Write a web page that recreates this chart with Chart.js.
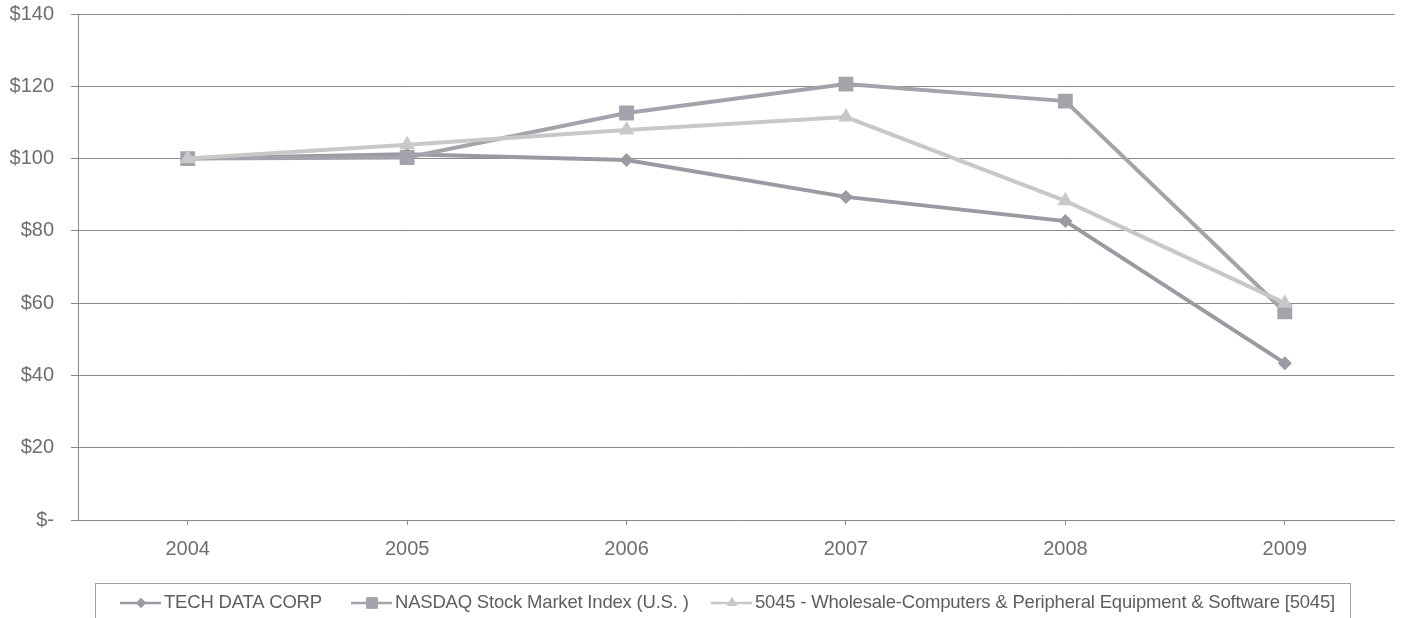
<!DOCTYPE html>
<html>
<head>
<meta charset="utf-8">
<script src="https://cdn.jsdelivr.net/npm/chart.js@4/dist/chart.umd.min.js"></script>
<style>
  html, body { margin: 0; padding: 0; background: #ffffff; }
  #wrap { width: 1405px; height: 618px; position: relative; }
</style>
</head>
<body>
<div id="wrap"><canvas id="c" width="1405" height="618"></canvas></div>
<script>
// Cumulative total return of $100 invested, year-end values
const years = ['2004', '2005', '2006', '2007', '2008', '2009'];
const techData = [100, 101.2, 99.6, 89.4, 82.7, 43.4];
const nasdaq = [100, 100.3, 112.6, 120.6, 115.9, 57.6];
const wholesale = [100, 103.8, 107.9, 111.5, 88.3, 60.0];

const seriesNames = [
  'TECH DATA CORP',
  'NASDAQ Stock Market Index (U.S. )',
  '5045 - Wholesale-Computers & Peripheral Equipment & Software [5045]'
];
const yTicks = [0, 20, 40, 60, 80, 100, 120, 140];

const colTech = '#9a9aa2';
const colNasdaq = '#a3a3ab';
const colWholesale = '#c8c8c8';
const fontFamily = '"Liberation Sans", Arial, sans-serif';

function tickLabel(v) { return v === 0 ? '$-' : '$' + v; }

// Legend drawn in a bordered box below the axis, line + marker per series
const boxLegend = {
  id: 'boxLegend',
  afterDraw(chart) {
    const ctx = chart.ctx;
    ctx.save();
    ctx.strokeStyle = '#a0a0a0';
    ctx.lineWidth = 1;
    ctx.strokeRect(95.5, 583.5, 1255, 60);
    const starts = [120, 351, 711];
    const y = 603;
    ctx.font = '18.5px ' + fontFamily;
    if ('letterSpacing' in ctx) ctx.letterSpacing = '-0.2px';
    ctx.textBaseline = 'middle';
    ctx.textAlign = 'left';
    starts.forEach((x0, i) => {
      const ds = chart.data.datasets[i];
      ctx.strokeStyle = ds.borderColor;
      ctx.lineWidth = 2.5;
      ctx.beginPath();
      ctx.moveTo(x0, y);
      ctx.lineTo(x0 + 41, y);
      ctx.stroke();
      ctx.fillStyle = ds.borderColor;
      Chart.helpers.drawPoint(ctx, {
        pointStyle: ds.pointStyle,
        radius: ds.legendRadius,
        borderWidth: 0
      }, x0 + 21, y);
      ctx.fill();
      ctx.fillStyle = '#5e5e5e';
      ctx.fillText(ds.label, x0 + 44, y);
    });
    ctx.restore();
  }
};

new Chart(document.getElementById('c'), {
  type: 'line',
  data: {
    labels: years,
    datasets: [
      {
        label: seriesNames[0], data: techData,
        borderColor: colTech, backgroundColor: colTech,
        borderWidth: 4, pointStyle: 'rectRot', pointRadius: 7, legendRadius: 5,
        pointBorderWidth: 0, tension: 0, order: 3
      },
      {
        label: seriesNames[1], data: nasdaq,
        borderColor: colNasdaq, backgroundColor: colNasdaq,
        borderWidth: 4, pointStyle: 'rect', pointRadius: 10.5, legendRadius: 8,
        pointBorderWidth: 0, tension: 0, order: 2
      },
      {
        label: seriesNames[2], data: wholesale,
        borderColor: colWholesale, backgroundColor: colWholesale,
        borderWidth: 4, pointStyle: 'triangle', pointRadius: 9, legendRadius: 6,
        pointBorderWidth: 0, tension: 0, order: 1
      }
    ]
  },
  options: {
    responsive: false,
    animation: false,
    layout: { padding: { top: 14, right: 9, left: 0, bottom: 0 } },
    plugins: { legend: { display: false }, tooltip: { enabled: false } },
    scales: {
      x: {
        offset: true,
        grid: { display: true, drawOnChartArea: false, offset: false, color: '#8a8a8a', tickLength: 5 },
        border: { color: '#8a8a8a', width: 1 },
        ticks: {
          color: '#6e6e6e', padding: 12,
          font: { family: fontFamily, size: 20 }
        },
        afterFit(scale) {
          scale.height = 98;
          scale.paddingLeft = 0;
          scale.paddingRight = 0;
        }
      },
      y: {
        min: 0, max: 140,
        afterBuildTicks(scale) { scale.ticks = yTicks.map(v => ({ value: v })); },
        grid: { color: '#8a8a8a', lineWidth: 1, tickLength: 7 },
        border: { color: '#8a8a8a', width: 1 },
        ticks: {
          color: '#6e6e6e', padding: 17,
          font: { family: fontFamily, size: 20 },
          callback: v => tickLabel(v)
        },
        afterFit(scale) {
          scale.width = 78;
          scale.paddingTop = 0;
          scale.paddingBottom = 0;
        }
      }
    }
  },
  plugins: [boxLegend]
});
</script>
</body>
</html>
